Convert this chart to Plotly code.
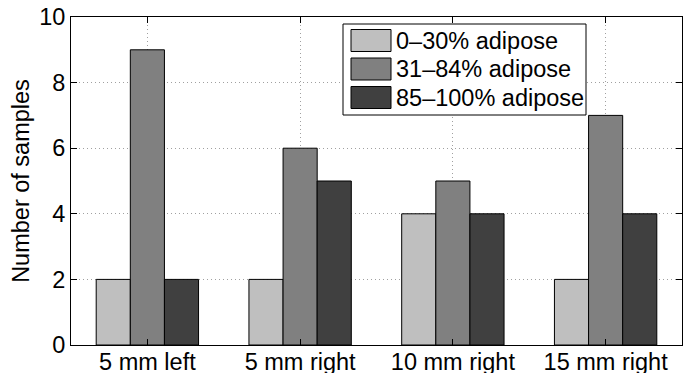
import plotly.graph_objects as go

categories = ["5 mm left", "5 mm right", "10 mm right", "15 mm right"]
series_names = ["0\u201330% adipose", "31\u201384% adipose", "85\u2013100% adipose"]
low_adipose = [2, 2, 4, 2]
mid_adipose = [9, 6, 5, 7]
high_adipose = [2, 5, 4, 4]
y_ticks = [0, 2, 4, 6, 8, 10]

colors = ["#bfbfbf", "#808080", "#404040"]
series_values = [low_adipose, mid_adipose, high_adipose]

W, H = 685, 373
L, R, T, B = 71, 682, 17, 345
FONT = "Liberation Sans, Arial, Helvetica, sans-serif"
FS = 23.5

fig = go.Figure()
for name, vals, col in zip(series_names, series_values, colors):
    fig.add_trace(go.Bar(
        x=categories, y=vals, name=name, showlegend=False,
        marker=dict(color=col, line=dict(color="#000000", width=1)),
    ))

def px2x(px):
    return (px - L) / (R - L)

def py2y(py):
    return (B - py) / (B - T)

shapes = []
annotations = []
# legend box
shapes.append(dict(type="rect", xref="paper", yref="paper",
                   x0=px2x(343), x1=px2x(586), y0=py2y(115), y1=py2y(24),
                   line=dict(color="#000000", width=1), fillcolor="#ffffff", layer="above"))
row_centers = [40.5, 69.0, 97.5]
for name, col, cy in zip(series_names, colors, row_centers):
    shapes.append(dict(type="rect", xref="paper", yref="paper",
                       x0=px2x(351), x1=px2x(391), y0=py2y(cy + 11), y1=py2y(cy - 11),
                       line=dict(color="#000000", width=1), fillcolor=col, layer="above"))
    annotations.append(dict(xref="paper", yref="paper", x=px2x(394), y=py2y(cy),
                            xanchor="left", yanchor="middle", text=name, showarrow=False,
                            font=dict(family=FONT, size=FS, color="#000000")))

fig.update_layout(
    width=W, height=H,
    margin=dict(l=L, r=W - R, t=T, b=H - B, pad=0),
    paper_bgcolor="#ffffff", plot_bgcolor="#ffffff",
    barmode="group", bargap=0.33, bargroupgap=0,
    font=dict(family=FONT, size=FS, color="#000000"),
    shapes=shapes, annotations=annotations,
    showlegend=False,
)
fig.update_xaxes(
    type="category", range=[-0.5, 3.5], automargin=False,
    showline=True, linecolor="#000000", linewidth=1, mirror="ticks",
    ticks="inside", ticklen=6, tickcolor="#000000",
    showgrid=True, gridcolor="#a0a0a0", griddash="1px,3px", gridwidth=1,
    tickfont=dict(family=FONT, size=FS, color="#000000"),
    ticklabelstandoff=-4,
    zeroline=False,
)
fig.update_yaxes(
    range=[0, 10], tickvals=y_ticks, ticktext=[str(v) for v in y_ticks],
    automargin=False,
    showline=True, linecolor="#000000", linewidth=1, mirror="ticks",
    ticks="inside", ticklen=6, tickcolor="#000000",
    showgrid=True, gridcolor="#a0a0a0", griddash="1px,3px", gridwidth=1,
    tickfont=dict(family=FONT, size=FS, color="#000000"),
    title=dict(text="Number of samples", font=dict(family=FONT, size=FS, color="#000000"), standoff=2),
    zeroline=False,
)

fig.write_html("out.html")
